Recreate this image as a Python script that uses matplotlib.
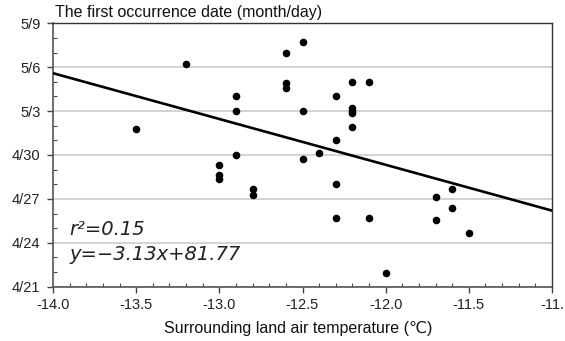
import matplotlib
matplotlib.use("Agg")
import matplotlib.pyplot as plt
from matplotlib.ticker import MultipleLocator
import numpy as np

plt.rcParams['font.family'] = ['Liberation Sans', 'DejaVu Sans']

# air temperature (°C)
temps = [-13.5, -13.2, -13.0, -13.0, -13.0, -12.9, -12.9, -12.9, -12.8, -12.8,
         -12.6, -12.6, -12.6, -12.5, -12.5, -12.5, -12.4, -12.3, -12.3, -12.3, -12.3,
         -12.2, -12.2, -12.2, -12.2, -12.2, -12.1, -12.1, -12.0, -11.7, -11.7,
         -11.6, -11.6, -11.5]
# first occurrence date as day of year (4/21 = 111)
days = [121.76, 126.2, 119.3, 118.65, 118.35, 124.0, 123.0, 120.0, 117.7, 117.3,
        127.0, 124.9, 124.6, 127.75, 123.0, 119.7, 120.15, 124.0, 121.0, 118.0, 115.7,
        125.0, 123.2, 123.0, 122.85, 121.9, 125.0, 115.7, 111.95, 117.15, 115.55,
        117.7, 116.4, 114.7]

ytick_vals = [111, 114, 117, 120, 123, 126, 129]
ytick_labels = ['4/21', '4/24', '4/27', '4/30', '5/3', '5/6', '5/9']
xtick_vals = [-14.0, -13.5, -13.0, -12.5, -12.0, -11.5, -11.0]
xtick_labels = ['-14.0', '-13.5', '-13.0', '-12.5', '-12.0', '-11.5', '-11.']

slope, intercept = -3.13, 81.77

fig = plt.figure(figsize=(5.65, 3.41), dpi=100)
ax = fig.add_axes([53/565, 1-286.7/341, (552-53)/565, (286.7-23.3)/341])

ax.set_xlim(-14.0, -11.0)
ax.set_ylim(111, 129)

ax.set_yticks(ytick_vals)
ax.set_yticklabels(ytick_labels)
ax.set_xticks(xtick_vals)
ax.set_xticklabels(xtick_labels)
ax.yaxis.set_minor_locator(MultipleLocator(1))
ax.xaxis.set_minor_locator(MultipleLocator(0.1))

ax.grid(axis='y', which='major', color='#cccccc', linewidth=1.2)
ax.set_axisbelow(True)

ax.tick_params(axis='both', which='major', direction='out', length=4, color='#444444',
               labelsize=10.5, labelcolor='#222222', width=1)
ax.tick_params(axis='both', which='minor', direction='in', length=3, color='#444444', width=0.8)
ax.tick_params(axis='x', pad=4)
ax.tick_params(axis='y', pad=5)

for s in ['left', 'bottom']:
    ax.spines[s].set_color('#555555')
    ax.spines[s].set_linewidth(1.2)
for s in ['right', 'top']:
    ax.spines[s].set_color('#333333')
    ax.spines[s].set_linewidth(1.0)

xs = np.array([-14.0, -11.0])
ax.plot(xs, slope * xs + intercept, color='black', linewidth=1.9, zorder=3)

ax.scatter(temps, days, s=30, color='black', zorder=4, linewidths=0)

ax.text(-13.9, 114.55, 'r\u00b2=0.15', fontsize=14, style='italic', color='#222222',
        family=['DejaVu Sans'])
ax.text(-13.9, 112.85, 'y=\u22123.13x+81.77', fontsize=14, style='italic', color='#222222',
        family=['DejaVu Sans'])

fig.text(55/565, 1-13/341, 'The first occurrence date (month/day)', fontsize=11.5,
         va='center', ha='left', color='#111111')
fig.text(298/565, 1-328/341, 'Surrounding land air temperature (\u2103)', fontsize=11.5,
         va='center', ha='center', color='#111111')

fig.savefig('out.png', dpi=100)
